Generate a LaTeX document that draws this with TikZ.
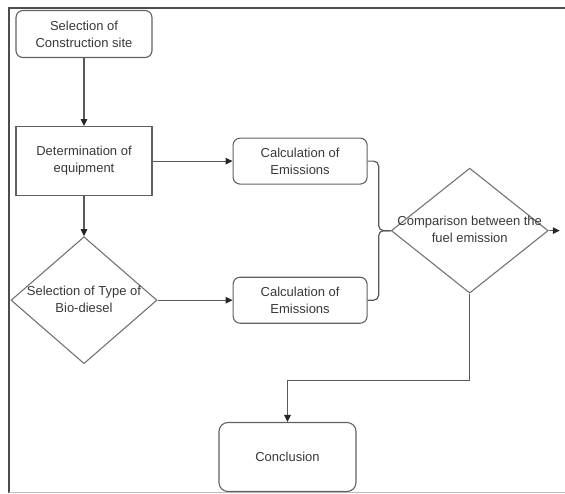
\documentclass[tikz,border=0pt]{standalone}
\usepackage{fontspec}
\setmainfont{Liberation Sans}
\usepackage{tikz}
\usetikzlibrary{shapes.geometric, arrows.meta, positioning, calc}

\newcommand{\dlabel}[1]{\makebox[0pt]{\begin{tabular}{@{}c@{}}#1\end{tabular}}}

\begin{document}
\begin{tikzpicture}[
    >={Triangle[length=7pt,width=6.5pt,color=black!85]},
    x=1pt, y=1pt,
    line width=1.1pt,
    every node/.style={font=\fontsize{13}{17}\selectfont, text=black!78},
    roundbox/.style={draw=black!62, rounded corners=7pt, align=center, inner sep=2pt},
    plainbox/.style={draw=black!62, rectangle, align=center, inner sep=2pt, minimum width=136pt, minimum height=69pt},
    calcbox/.style={roundbox, minimum width=134pt, minimum height=46pt},
    decision/.style={draw=black!55, diamond, inner sep=0pt},
    flow/.style={draw=black!65, line width=1.2pt},
    frame/.style={draw=black!70, line width=2pt}
]
\useasboundingbox (0,0) rectangle (565,-493);

% Frame
\draw[frame] (9,-493) -- (9,-8) -- (565,-8);
\draw[black!25, line width=0.8pt] (9,-492) -- (565,-492);

% Left column
\node[roundbox, minimum width=136pt, minimum height=47pt] (site) at (84,-34) {Selection of\\Construction site};
\node[plainbox, below=68pt of site] (equip) {Determination of\\equipment};
\node[decision, minimum width=146pt, minimum height=127pt, below=40pt of equip] (bio) {\dlabel{Selection of Type of\\Bio-diesel}};

% Emissions
\node[calcbox, right=80pt of equip] (calc1) {Calculation of\\Emissions};
\node[calcbox, right=75pt of bio] (calc2) {Calculation of\\Emissions};
\coordinate (mid) at ($(calc1.east)!0.5!(calc2.east)$);

% Comparison and end
\node[decision, minimum width=157pt, minimum height=125pt, right=23pt of mid] (cmp) {\dlabel{Comparison between the\\fuel emission}};
\coordinate[right=11pt of cmp.east] (cmpout);
\node[roundbox, rounded corners=9pt, minimum width=137pt, minimum height=69pt] (concl) at (287.5,-457) {Conclusion};

% Flow Edges
\draw[flow, ->] (site) -- (equip);
\draw[flow, ->] (equip) -- (calc1);
\draw[flow, ->] (equip) -- (bio);
\draw[flow, ->] (bio) -- (calc2);
\draw[flow, rounded corners=5pt] (calc1.east) -- ++(11,0) |- (cmp.west);
\draw[flow, rounded corners=5pt] (calc2.east) -- ++(11,0) |- (cmp.west);
\draw[flow, ->] (cmp.east) -- (cmpout);
\draw[flow, ->] (cmp.south) -- ++(0,-87) -| (concl.north);

\end{tikzpicture}
\end{document}
